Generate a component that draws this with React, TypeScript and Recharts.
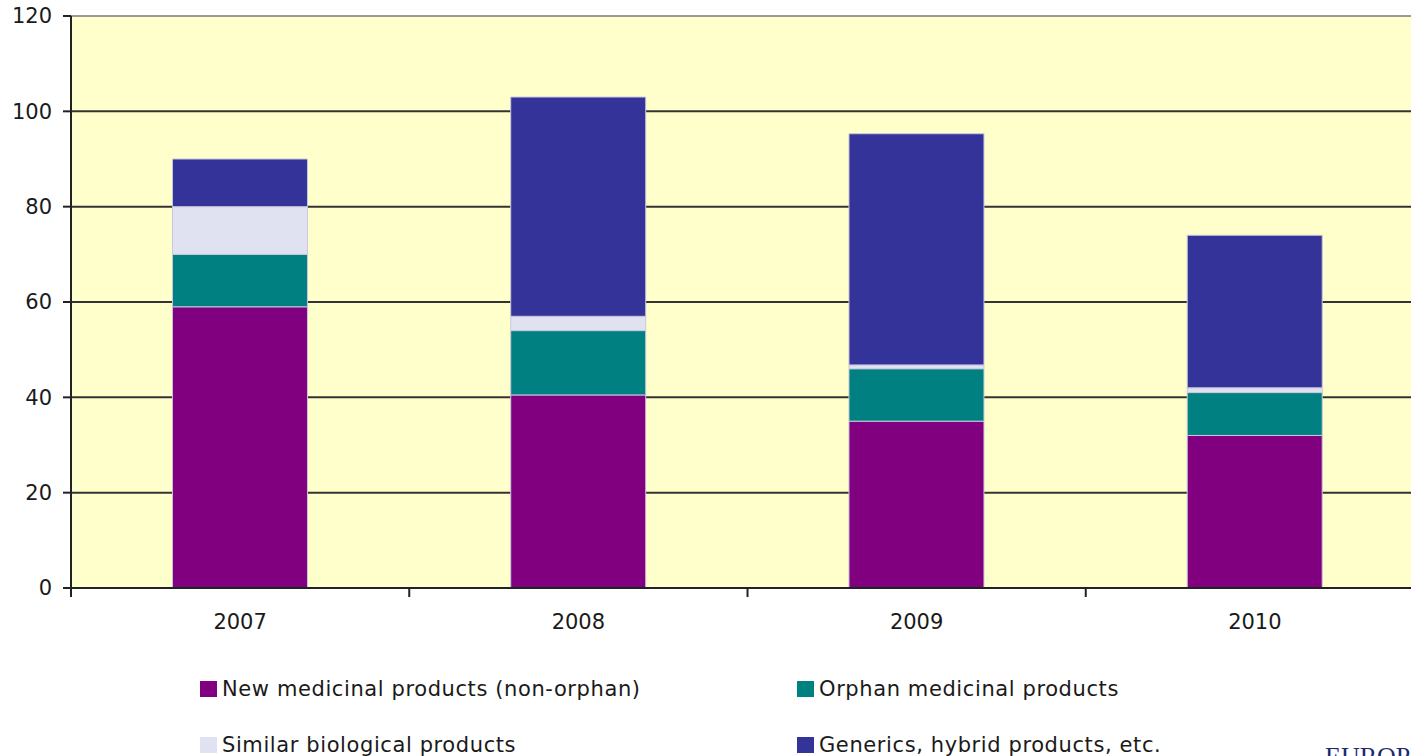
import React from 'react';
import {
  BarChart,
  Bar,
  XAxis,
  YAxis,
  CartesianGrid,
  ReferenceLine,
} from 'recharts';

// Chart data
const YEARS = ['2007', '2008', '2009', '2010'];
const NEW_NON_ORPHAN = [59, 40.5, 35, 32];
const ORPHAN = [11, 13.5, 11, 9];
const SIMILAR_BIO = [10, 3, 0.8, 1];
const GENERICS = [10, 46, 48.5, 32];
const Y_TICKS = [0, 20, 40, 60, 80, 100, 120];

const SERIES = [
  { key: 'newProducts', name: 'New medicinal products (non-orphan)', color: '#800080', values: NEW_NON_ORPHAN },
  { key: 'orphan', name: 'Orphan medicinal products', color: '#008080', values: ORPHAN },
  { key: 'similar', name: 'Similar biological products', color: '#E0E2F2', values: SIMILAR_BIO },
  { key: 'generics', name: 'Generics, hybrid products, etc.', color: '#333399', values: GENERICS },
];

const data = YEARS.map((year, i) => {
  const row: Record<string, string | number> = { year };
  SERIES.forEach((s) => {
    row[s.key] = s.values[i];
  });
  return row;
});

const FONT = '"DejaVu Sans", Verdana, sans-serif';
const CHART_W = 1424;
const CHART_H = 650;
const AXIS_W = 71;
const BAND = (CHART_W - AXIS_W) / YEARS.length;

const XTick = (props: any) => {
  const { x, y, payload } = props;
  const bx = x - BAND / 2;
  return (
    <g>
      <line x1={bx} x2={bx} y1={y} y2={y + 9} stroke="#222" strokeWidth={2} />
      <text x={x} y={y + 41} textAnchor="middle" fill="#1a1a1a" fontSize={21} fontFamily={FONT}>
        {payload.value}
      </text>
    </g>
  );
};

// Legend order as in the picture: two columns
const LEGEND_POS = [
  { left: 200, top: 681 },
  { left: 797, top: 681 },
  { left: 200, top: 737 },
  { left: 797, top: 737 },
];

const App: React.FC = () => (
  <div
    style={{
      position: 'fixed',
      left: 0,
      top: 0,
      width: 1411,
      height: 756,
      overflow: 'hidden',
      background: '#fff',
      fontFamily: FONT,
    }}
  >
    <BarChart
      width={CHART_W}
      height={CHART_H}
      data={data}
      margin={{ top: 16, right: 0, left: 0, bottom: 0 }}
      barCategoryGap="30%"
    >
      <CartesianGrid vertical={false} stroke="#333" strokeWidth={2} fill="#FFFFCC" fillOpacity={1} />
      <ReferenceLine y={120} stroke="#9a9a9a" strokeWidth={2} />
      <XAxis
        dataKey="year"
        height={CHART_H - 16 - 572}
        tickSize={0}
        tickMargin={0}
        tick={<XTick />}
        axisLine={{ stroke: '#222', strokeWidth: 2 }}
        tickLine={false}
        interval={0}
      />
      <YAxis
        width={AXIS_W}
        domain={[0, 120]}
        ticks={Y_TICKS}
        interval={0}
        tickSize={8}
        tickMargin={11}
        axisLine={{ stroke: '#222', strokeWidth: 2 }}
        tickLine={{ stroke: '#222', strokeWidth: 2 }}
        tick={{ fill: '#1a1a1a', fontSize: 21, fontFamily: FONT }}
      />
      {SERIES.map((s) => (
        <Bar
          key={s.key}
          dataKey={s.key}
          name={s.name}
          stackId="a"
          fill={s.color}
          stroke="#c8c8dc"
          strokeWidth={1}
          isAnimationActive={false}
        />
      ))}
    </BarChart>

    {SERIES.map((s, i) => (
      <div
        key={s.key}
        style={{
          position: 'absolute',
          left: LEGEND_POS[i].left,
          top: LEGEND_POS[i].top,
          display: 'flex',
          alignItems: 'center',
          whiteSpace: 'nowrap',
          fontSize: 21,
          letterSpacing: '0.6px',
          color: '#1a1a1a',
          lineHeight: '16px',
        }}
      >
        <span style={{ display: 'inline-block', width: 17, height: 16, background: s.color, marginRight: 5 }} />
        <span>{s.name}</span>
      </div>
    ))}

    <div
      style={{
        position: 'absolute',
        left: 1325,
        top: 744,
        fontFamily: '"Liberation Serif", serif',
        fontSize: 26,
        color: '#1c2a6e',
        whiteSpace: 'nowrap',
        lineHeight: '26px',
      }}
    >
      EUROPEAN MEDICINES AGENCY
    </div>
  </div>
);

export default App;
